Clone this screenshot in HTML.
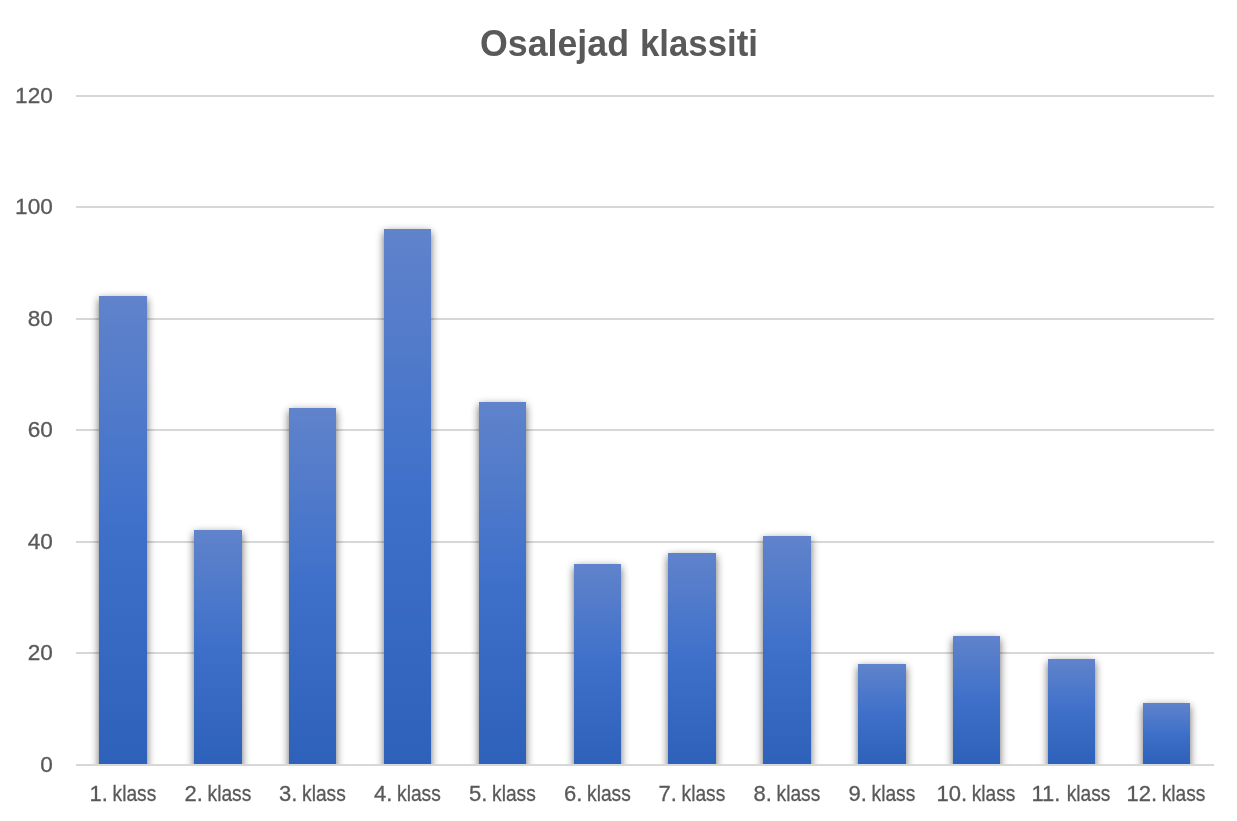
<!DOCTYPE html>
<html lang="et">
<head>
<meta charset="utf-8">
<title>Osalejad klassiti</title>
<style>
html,body{margin:0;padding:0;background:#fff;}
body{width:1237px;height:821px;overflow:hidden;position:relative;font-family:"Liberation Sans",sans-serif;}
svg{position:absolute;left:0;top:0;display:block;}
.t{font-family:"Liberation Sans",sans-serif;font-weight:bold;font-size:37px;fill:#595959;}
.a{font-family:"Liberation Sans",sans-serif;font-size:22px;fill:#595959;stroke:#595959;stroke-width:0.3px;}
.y{font-size:22.6px;}
</style>
</head>
<body>
<svg width="1237" height="821" viewBox="0 0 1237 821">
<defs>
<linearGradient id="g" x1="0" y1="0" x2="0" y2="1">
<stop offset="0" stop-color="#6083CB"/>
<stop offset="0.5" stop-color="#3E70CA"/>
<stop offset="1" stop-color="#2E61BA"/>
</linearGradient>
<filter id="sh" x="-60%" y="-25%" width="220%" height="150%" color-interpolation-filters="sRGB">
<feGaussianBlur in="SourceAlpha" stdDeviation="4"/>
<feOffset dx="0" dy="3" result="b"/>
<feComponentTransfer><feFuncA type="linear" slope="0.6"/></feComponentTransfer>
</filter>
<clipPath id="cp"><rect x="0" y="0" width="1237" height="764"/></clipPath>
</defs>
<rect width="1237" height="821" fill="#ffffff"/>

<g fill="#D7D7D7">
<rect x="76" y="95" width="1138" height="2"/>
<rect x="76" y="206" width="1138" height="2"/>
<rect x="76" y="318" width="1138" height="2"/>
<rect x="76" y="429" width="1138" height="2"/>
<rect x="76" y="541" width="1138" height="2"/>
<rect x="76" y="652" width="1138" height="2"/>
</g>
<g clip-path="url(#cp)">
<rect x="99" y="296" width="48" height="498" fill="#000" filter="url(#sh)"/>
<rect x="194" y="530" width="48" height="264" fill="#000" filter="url(#sh)"/>
<rect x="289" y="408" width="47" height="386" fill="#000" filter="url(#sh)"/>
<rect x="384" y="229" width="47" height="565" fill="#000" filter="url(#sh)"/>
<rect x="479" y="402" width="47" height="392" fill="#000" filter="url(#sh)"/>
<rect x="574" y="564" width="47" height="230" fill="#000" filter="url(#sh)"/>
<rect x="668" y="553" width="48" height="241" fill="#000" filter="url(#sh)"/>
<rect x="763" y="536" width="48" height="258" fill="#000" filter="url(#sh)"/>
<rect x="858" y="664" width="48" height="130" fill="#000" filter="url(#sh)"/>
<rect x="953" y="636" width="47" height="158" fill="#000" filter="url(#sh)"/>
<rect x="1048" y="659" width="47" height="135" fill="#000" filter="url(#sh)"/>
<rect x="1143" y="703" width="47" height="91" fill="#000" filter="url(#sh)"/>
<rect x="99" y="296" width="48" height="468" fill="url(#g)"/>
<rect x="194" y="530" width="48" height="234" fill="url(#g)"/>
<rect x="289" y="408" width="47" height="356" fill="url(#g)"/>
<rect x="384" y="229" width="47" height="535" fill="url(#g)"/>
<rect x="479" y="402" width="47" height="362" fill="url(#g)"/>
<rect x="574" y="564" width="47" height="200" fill="url(#g)"/>
<rect x="668" y="553" width="48" height="211" fill="url(#g)"/>
<rect x="763" y="536" width="48" height="228" fill="url(#g)"/>
<rect x="858" y="664" width="48" height="100" fill="url(#g)"/>
<rect x="953" y="636" width="47" height="128" fill="url(#g)"/>
<rect x="1048" y="659" width="47" height="105" fill="url(#g)"/>
<rect x="1143" y="703" width="47" height="61" fill="url(#g)"/>
</g>
<rect x="76" y="764" width="1138" height="2" fill="#D7D7D7"/>
<text class="t" x="480" y="55.8" textLength="149" lengthAdjust="spacingAndGlyphs">Osalejad</text>
<text class="t" x="640" y="55.8" textLength="118" lengthAdjust="spacingAndGlyphs">klassiti</text>
<text class="a y" x="52.8" y="772.3" text-anchor="end">0</text>
<text class="a y" x="52.8" y="660.3" text-anchor="end">20</text>
<text class="a y" x="52.8" y="549.3" text-anchor="end">40</text>
<text class="a y" x="52.8" y="437.3" text-anchor="end">60</text>
<text class="a y" x="52.8" y="326.3" text-anchor="end">80</text>
<text class="a y" x="52.8" y="214.3" text-anchor="end">100</text>
<text class="a y" x="52.8" y="103.3" text-anchor="end">120</text>
<text class="a" x="89.4" y="800.8">1.</text><text class="a" transform="translate(112.53,800.8) scale(0.873,1)">klass</text>
<text class="a" x="184.4" y="800.8">2.</text><text class="a" transform="translate(207.53,800.8) scale(0.873,1)">klass</text>
<text class="a" x="278.9" y="800.8">3.</text><text class="a" transform="translate(302.03,800.8) scale(0.873,1)">klass</text>
<text class="a" x="373.9" y="800.8">4.</text><text class="a" transform="translate(397.03,800.8) scale(0.873,1)">klass</text>
<text class="a" x="468.9" y="800.8">5.</text><text class="a" transform="translate(492.03,800.8) scale(0.873,1)">klass</text>
<text class="a" x="563.9" y="800.8">6.</text><text class="a" transform="translate(587.03,800.8) scale(0.873,1)">klass</text>
<text class="a" x="658.4" y="800.8">7.</text><text class="a" transform="translate(681.53,800.8) scale(0.873,1)">klass</text>
<text class="a" x="753.4" y="800.8">8.</text><text class="a" transform="translate(776.53,800.8) scale(0.873,1)">klass</text>
<text class="a" x="848.4" y="800.8">9.</text><text class="a" transform="translate(871.53,800.8) scale(0.873,1)">klass</text>
<text class="a" x="936.5" y="800.8">10.</text><text class="a" transform="translate(971.63,800.8) scale(0.873,1)">klass</text>
<text class="a" x="1031.5" y="800.8">11.</text><text class="a" transform="translate(1066.63,800.8) scale(0.873,1)">klass</text>
<text class="a" x="1126.5" y="800.8">12.</text><text class="a" transform="translate(1161.63,800.8) scale(0.873,1)">klass</text>
</svg>
</body>
</html>
